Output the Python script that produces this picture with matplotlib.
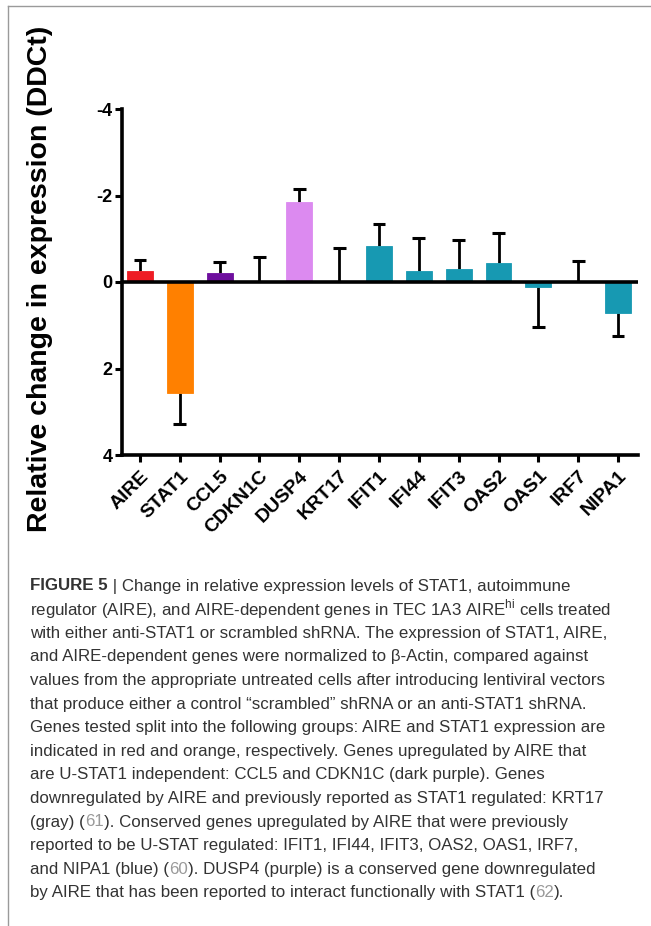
import matplotlib
matplotlib.use("Agg")
import matplotlib.pyplot as plt
from matplotlib.lines import Line2D
import numpy as np

genes = ["AIRE", "STAT1", "CCL5", "CDKN1C", "DUSP4", "KRT17", "IFIT1",
         "IFI44", "IFIT3", "OAS2", "OAS1", "IRF7", "NIPA1"]
values = [-0.26, 2.57, -0.20, -0.01, -1.85, -0.01, -0.83,
          -0.26, -0.31, -0.45, 0.11, -0.01, 0.72]
errors = [0.26, 0.72, 0.27, 0.57, 0.31, 0.78, 0.52,
          0.76, 0.67, 0.68, 0.92, 0.48, 0.53]
colors = ["#EE1C24", "#FF8000", "#6E0F9E", "#6E0F9E", "#DC8AF0", "#9A9A9A",
          "#1799B2", "#1799B2", "#1799B2", "#1799B2", "#1799B2", "#1799B2",
          "#1799B2"]
yticks = [-4, -2, 0, 2, 4]
ylabel = "Relative change in expression (DDCt)"

fig = plt.figure(figsize=(6.51, 9.26), dpi=100)

# page frame lines
fig.add_artist(Line2D([8/651, 1.0], [1-6/926, 1-6/926], transform=fig.transFigure,
                      color="#9a9a9a", lw=1.0))
fig.add_artist(Line2D([8/651, 8/651], [1-6/926, 0.0], transform=fig.transFigure,
                      color="#9a9a9a", lw=1.0))

ax = fig.add_axes([122/651, 1-455/926, (638-122)/651, (455-109)/926])
x = np.arange(len(genes))
vals = np.array(values)
errs = np.array(errors)
sign = np.where(vals > 0, 1.0, -1.0)
tips = vals + sign * errs
ax.bar(x, vals, width=0.65, color=colors, edgecolor=colors, linewidth=0.6, zorder=2)
ax.vlines(x, vals, tips, color="black", lw=2.0, zorder=1)
ax.hlines(tips, x - 0.16, x + 0.16, color="black", lw=2.2, zorder=1)
ax.axhline(0, color="black", lw=2.6, zorder=3)
ax.set_xlim(-0.45, 12.5)
ax.set_ylim(4, -4)
ax.set_yticks(yticks)
ax.set_yticklabels([str(t) for t in yticks], fontsize=13, fontweight="bold",
                   family="Liberation Sans")
ax.set_xticks(x)
ax.set_xticklabels(genes, rotation=45, ha="right", rotation_mode="anchor",
                   fontsize=14, fontweight="bold", family="Liberation Sans")
for s in ["top", "right"]:
    ax.spines[s].set_visible(False)
for s in ["left", "bottom"]:
    ax.spines[s].set_linewidth(2.6)
ax.tick_params(axis="both", direction="out", length=5, width=2.2, pad=2)
ax.tick_params(axis="x", pad=4)

fig.text(40/651, 1-279/926, ylabel, rotation=90, ha="center", va="center",
         fontsize=20.5, fontweight="bold", family="Liberation Sans")

# caption
cap_color = "#333333"
ref_color = "#9a9a9a"
fs = 12.2
fam = ["Liberation Sans Narrow", "Liberation Sans", "DejaVu Sans"]
lines = [
    [("FIGURE 5", cap_color, "bold"), (" | Change in relative expression levels of STAT1, autoimmune", cap_color, "normal")],
    [("regulator (AIRE), and AIRE-dependent genes in TEC 1A3 AIRE$^{\\mathregular{hi}}$ cells treated", cap_color, "normal")],
    [("with either anti-STAT1 or scrambled shRNA. The expression of STAT1, AIRE,", cap_color, "normal")],
    [("and AIRE-dependent genes were normalized to \u03b2-Actin, compared against", cap_color, "normal")],
    [("values from the appropriate untreated cells after introducing lentiviral vectors", cap_color, "normal")],
    [("that produce either a control \u201cscrambled\u201d shRNA or an anti-STAT1 shRNA.", cap_color, "normal")],
    [("Genes tested split into the following groups: AIRE and STAT1 expression are", cap_color, "normal")],
    [("indicated in red and orange, respectively. Genes upregulated by AIRE that", cap_color, "normal")],
    [("are U-STAT1 independent: CCL5 and CDKN1C (dark purple). Genes", cap_color, "normal")],
    [("downregulated by AIRE and previously reported as STAT1 regulated: KRT17", cap_color, "normal")],
    [("(gray) (", cap_color, "normal"), ("61", ref_color, "normal"), ("). Conserved genes upregulated by AIRE that were previously", cap_color, "normal")],
    [("reported to be U-STAT regulated: IFIT1, IFI44, IFIT3, OAS2, OAS1, IRF7,", cap_color, "normal")],
    [("and NIPA1 (blue) (", cap_color, "normal"), ("60", ref_color, "normal"), ("). DUSP4 (purple) is a conserved gene downregulated", cap_color, "normal")],
    [("by AIRE that has been reported to interact functionally with STAT1 (", cap_color, "normal"), ("62", ref_color, "normal"), (").", cap_color, "normal")],
]
y0 = 586
dy = 23.6
for i, parts in enumerate(lines):
    yy = 1 - (y0 + i*dy) / 926
    last = None
    for txt, col, wt in parts:
        if last is None:
            last = fig.text(30/651, yy, txt, color=col, fontweight=wt, fontsize=fs,
                            family=fam, ha="left", va="center")
        else:
            last = ax.annotate(txt, xy=(1, 0), xycoords=last,
                               va="bottom", ha="left", color=col, fontweight=wt,
                               fontsize=fs, family=fam, annotation_clip=False)

fig.savefig("out.png", dpi=100)
